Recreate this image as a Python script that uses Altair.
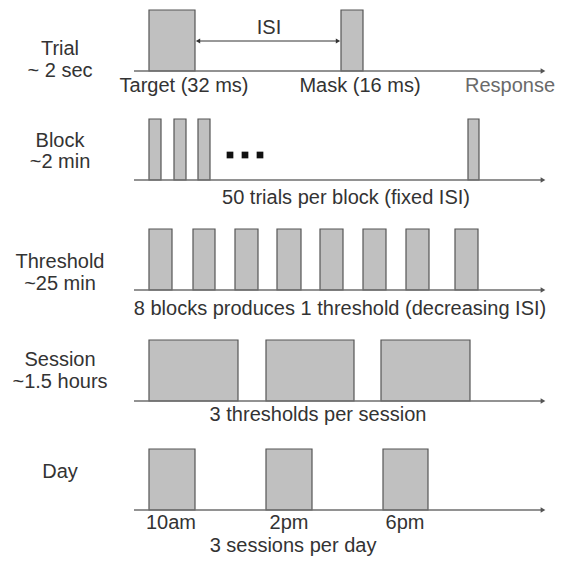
import altair as alt
import pandas as pd

FONT = "Liberation Sans"
FS = 20

# ---- rows of the timeline diagram ----
row_names = ["Trial", "Block", "Threshold", "Session", "Day"]
row_base = [71, 180, 290, 401, 510]        # baseline (axis) of each row
box_height = 61
axis_start, axis_end = 134, 546

# boxes (start, end) along the time axis for each row
trial_boxes = [(149, 195), (341, 363)]
block_boxes = [(149, 161), (174, 186), (198, 210), (468, 479)]
threshold_boxes = [(149, 172), (193, 215), (235, 258), (277, 301),
                   (320, 343), (363, 386), (406, 429), (455, 478)]
session_boxes = [(149, 238), (266, 354), (381, 470)]
day_boxes = [(149, 195), (266, 312), (383, 428)]
all_boxes = [trial_boxes, block_boxes, threshold_boxes, session_boxes, day_boxes]

# left-hand labels: (line1, y1, line2, y2)
left_x = 60
left_labels = [("Trial", 49, "~ 2 sec", 71),
               ("Block", 141, "~2 min", 162),
               ("Threshold", 262, "~25 min", 284),
               ("Session", 360, "~1.5 hours", 382),
               ("Day", 472, "", 0)]

# texts under the axes: (text, x, y, colour)
under_texts = [("Target (32 ms)", 184, 86, "#333333"),
               ("Mask (16 ms)", 360, 86, "#333333"),
               ("Response", 510, 86, "#6a6a6a"),
               ("50 trials per block (fixed ISI)", 346, 198, "#333333"),
               ("8 blocks produces 1 threshold (decreasing ISI)", 340, 309, "#333333"),
               ("3 thresholds per session", 318, 415, "#333333"),
               ("10am", 171, 523, "#333333"),
               ("2pm", 289, 523, "#333333"),
               ("6pm", 405, 523, "#333333"),
               ("3 sessions per day", 293, 546, "#333333")]

isi_start, isi_end, isi_y = 195, 341, 41
isi_label = ("ISI", 269, 28)
ellipsis_x = [230, 245, 260]
ellipsis_y = 155

# ---- build tables ----
boxes = pd.DataFrame([
    {"x": s, "x2": e, "y": b - box_height, "y2": b}
    for boxes_row, b in zip(all_boxes, row_base) for s, e in boxes_row
])
axes = pd.DataFrame([{"x": axis_start, "x2": axis_end - 4, "y": b} for b in row_base])
heads = pd.DataFrame([{"x": axis_end - 3, "y": b} for b in row_base])
lefts = []
for (l1, y1, l2, y2) in left_labels:
    lefts.append({"t": l1, "y": y1})
    if l2:
        lefts.append({"t": l2, "y": y2})
lefts = pd.DataFrame(lefts)
lefts["x"] = left_x
unders = pd.DataFrame(under_texts, columns=["t", "x", "y", "c"])
isi = pd.DataFrame([{"x": isi_start + 3, "x2": isi_end - 3, "y": isi_y}])
isi_heads = pd.DataFrame([{"x": isi_start + 3, "y": isi_y, "s": "triangle-left"},
                          {"x": isi_end - 3, "y": isi_y, "s": "triangle-right"}])
isi_txt = pd.DataFrame([{"t": isi_label[0], "x": isi_label[1], "y": isi_label[2]}])
dots = pd.DataFrame({"x": ellipsis_x, "y": [ellipsis_y] * len(ellipsis_x)})

xs = alt.Scale(domain=[8, 555], nice=False, zero=False)
ys = alt.Scale(domain=[8, 557], reverse=True, nice=False, zero=False)
X = lambda f="x": alt.X(f"{f}:Q", scale=xs, axis=None)
Y = lambda f="y": alt.Y(f"{f}:Q", scale=ys, axis=None)

l_boxes = alt.Chart(boxes).mark_rect(fill="#c0c0c0", stroke="#555555", strokeWidth=1.2).encode(
    x=X(), x2="x2:Q", y=Y(), y2="y2:Q")
l_axes = alt.Chart(axes).mark_rule(color="#6e6e6e", strokeWidth=1.5).encode(
    x=X(), x2="x2:Q", y=Y())
l_heads = alt.Chart(heads).mark_point(shape="triangle-right", filled=True, color="#555555",
                                      size=30, opacity=1).encode(x=X(), y=Y())
l_isi = alt.Chart(isi).mark_rule(color="#333333", strokeWidth=1).encode(x=X(), x2="x2:Q", y=Y())
l_isi_heads = alt.Chart(isi_heads).mark_point(filled=True, color="#333333", size=25, opacity=1).encode(
    x=X(), y=Y(), shape=alt.Shape("s:N", scale=None))
l_isi_txt = alt.Chart(isi_txt).mark_text(font=FONT, fontSize=FS, color="#333333").encode(
    x=X(), y=Y(), text="t:N")
l_dots = alt.Chart(dots).mark_square(color="#111111", size=45, opacity=1).encode(x=X(), y=Y())
l_lefts = alt.Chart(lefts).mark_text(font=FONT, fontSize=FS, color="#333333").encode(
    x=X(), y=Y(), text="t:N")
l_unders = alt.Chart(unders).mark_text(font=FONT, fontSize=FS).encode(
    x=X(), y=Y(), text="t:N", color=alt.Color("c:N", scale=None))

chart = alt.layer(l_boxes, l_axes, l_heads, l_isi, l_isi_heads, l_isi_txt, l_dots,
                  l_lefts, l_unders).properties(
    width=547, height=549, padding=0, autosize=alt.AutoSizeParams(type="none"),
    background="white"
).configure_view(stroke=None)

chart.save("out.html", embed_options={"renderer": "svg", "actions": False})
